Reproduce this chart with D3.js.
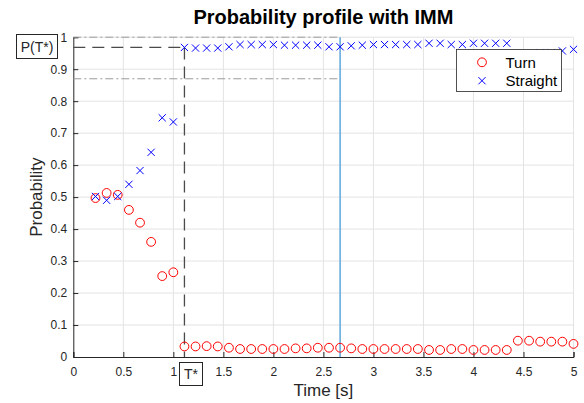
<!DOCTYPE html>
<html>
<head>
<meta charset="utf-8">
<script src="https://cdn.jsdelivr.net/npm/d3@7"></script>
<style>
  html, body { margin: 0; padding: 0; background: #fff; }
  svg { display: block; font-family: "Liberation Sans", Arial, Helvetica, sans-serif; }
</style>
</head>
<body>
<svg id="chart" width="584" height="403"></svg>
<script>
// Sample times [s]
const times = [0.222, 0.333, 0.444, 0.556, 0.667, 0.778, 0.889, 1.0,
  1.111, 1.222, 1.333, 1.444, 1.556, 1.667, 1.778, 1.889, 2.0, 2.111,
  2.222, 2.333, 2.444, 2.556, 2.667, 2.778, 2.889, 3.0, 3.111, 3.222,
  3.333, 3.444, 3.556, 3.667, 3.778, 3.889, 4.0, 4.111, 4.222, 4.333,
  4.444, 4.556, 4.667, 4.778, 4.889, 5.0];

// Mode probabilities from the IMM filter
const turnProb = [0.497, 0.513, 0.507, 0.460, 0.420, 0.360, 0.253, 0.265,
  0.033, 0.033, 0.034, 0.033, 0.029, 0.025, 0.025, 0.025, 0.025, 0.025,
  0.027, 0.027, 0.029, 0.029, 0.029, 0.027, 0.025,
  0.025, 0.025, 0.025, 0.025, 0.025, 0.022, 0.022, 0.025, 0.025, 0.022,
  0.022, 0.022, 0.022,
  0.051, 0.051, 0.048, 0.048, 0.048, 0.041];

const straightProb = [0.502, 0.490, 0.502, 0.540, 0.583, 0.640, 0.748, 0.735,
  0.968, 0.966, 0.966, 0.966, 0.970, 0.977, 0.977, 0.977, 0.977, 0.975,
  0.975, 0.975, 0.975, 0.970, 0.970, 0.973, 0.975,
  0.977, 0.977, 0.977, 0.977, 0.977, 0.981, 0.981, 0.977, 0.977, 0.981,
  0.981, 0.981, 0.981,
  0.949, 0.949, 0.952, 0.952, 0.957, 0.962];

const xTicks = [0, 0.5, 1, 1.5, 2, 2.5, 3, 3.5, 4, 4.5, 5];
const yTicks = [0, 0.1, 0.2, 0.3, 0.4, 0.5, 0.6, 0.7, 0.8, 0.9, 1];

// Reference markers
const tStar = 1.111;      // switch time T*
const pStar = 0.968;      // P(T*)
const tBand = 2.667;      // end of the band
const bandHigh = 1.0;
const bandLow = 0.87;

const svg = d3.select("#chart");
const plotLeft = 73.3, plotRight = 573.5, plotTop = 37.2, plotBottom = 357;

const x = d3.scaleLinear().domain([0, 5]).range([plotLeft, plotRight]);
const y = d3.scaleLinear().domain([0, 1]).range([plotBottom, plotTop]);

const axisColor = "#262626";

// Grid
const grid = svg.append("g").attr("stroke", "#e3e3e3").attr("stroke-width", 1);
grid.selectAll("line.gx").data(xTicks.slice(1)).join("line")
  .attr("x1", d => x(d)).attr("x2", d => x(d))
  .attr("y1", plotBottom).attr("y2", plotTop);
grid.selectAll("line.gy").data(yTicks.slice(1)).join("line")
  .attr("x1", plotLeft).attr("x2", plotRight)
  .attr("y1", d => y(d)).attr("y2", d => y(d));

// Axes (inward ticks)
const xAxis = d3.axisBottom(x).tickValues(xTicks).tickSize(-5).tickPadding(10)
  .tickFormat(d3.format("~g"));
const yAxis = d3.axisLeft(y).tickValues(yTicks).tickSize(-5).tickPadding(6)
  .tickFormat(d3.format("~g"));

const gx = svg.append("g").attr("transform", `translate(0,${plotBottom})`).call(xAxis);
const gy = svg.append("g").attr("transform", `translate(${plotLeft},0)`).call(yAxis);
[gx, gy].forEach(g => {
  g.select(".domain").attr("stroke", axisColor).attr("stroke-width", 1);
  g.selectAll(".tick line").attr("stroke", axisColor);
  g.selectAll(".tick text").attr("fill", axisColor)
    .style("font-size", "12px").style("font-family", "Liberation Sans, Arial, sans-serif");
});

// Band lines (dash-dot) and end marker
const band = svg.append("g");
[bandHigh, bandLow].forEach(v => {
  band.append("line")
    .attr("x1", x(0)).attr("x2", x(tBand))
    .attr("y1", y(v)).attr("y2", y(v))
    .attr("stroke", "#9a9a9a").attr("stroke-width", 1)
    .attr("stroke-dasharray", "8,3,2,3");
});
band.append("line")
  .attr("x1", x(tBand)).attr("x2", x(tBand))
  .attr("y1", y(bandHigh)).attr("y2", y(0))
  .attr("stroke", "#5ea6dc").attr("stroke-width", 1.5);

// T* / P(T*) guides
const guide = svg.append("g").attr("stroke", "#4a4a4a").attr("stroke-width", 1.3)
  .attr("stroke-dasharray", "12,7").attr("fill", "none");
guide.append("line")
  .attr("x1", x(0)).attr("x2", x(tStar))
  .attr("y1", y(pStar)).attr("y2", y(pStar));
guide.append("line")
  .attr("x1", x(tStar)).attr("x2", x(tStar))
  .attr("y1", y(pStar)).attr("y2", y(0));

// Markers
const turnColor = "#ff0000", straightColor = "#0000ff";
const pts = times.map((t, i) => ({ t, turn: turnProb[i], straight: straightProb[i] }));

svg.append("g").selectAll("circle").data(pts).join("circle")
  .attr("cx", d => x(d.t)).attr("cy", d => y(d.turn)).attr("r", 4.4)
  .attr("fill", "none").attr("stroke", turnColor).attr("stroke-width", 1);

const cs = 3.6;
const crossPath = (cx, cy) =>
  `M${cx - cs},${cy - cs}L${cx + cs},${cy + cs}M${cx - cs},${cy + cs}L${cx + cs},${cy - cs}`;
svg.append("g").selectAll("path").data(pts).join("path")
  .attr("d", d => crossPath(x(d.t), y(d.straight)))
  .attr("stroke", straightColor).attr("stroke-width", 1).attr("fill", "none");

// Boxed labels
function boxedLabel(text, bx, by, bw, bh) {
  const g = svg.append("g");
  g.append("rect").attr("x", bx).attr("y", by).attr("width", bw).attr("height", bh)
    .attr("fill", "#fff").attr("stroke", axisColor).attr("stroke-width", 1);
  g.append("text").attr("x", bx + bw / 2).attr("y", by + bh / 2 + 5)
    .attr("text-anchor", "middle").attr("fill", axisColor)
    .style("font-size", "14px").text(text);
}
boxedLabel("P(T*)", 16.5, 34.5, 41, 24);
boxedLabel("T*", 179.5, 362.5, 23, 23);

// Legend
const lg = svg.append("g");
lg.append("rect").attr("x", 456.5).attr("y", 49.5).attr("width", 105).attr("height", 42)
  .attr("fill", "#fff").attr("stroke", axisColor).attr("stroke-width", 0.8);
lg.append("circle").attr("cx", 482).attr("cy", 62.3).attr("r", 4.4)
  .attr("fill", "none").attr("stroke", turnColor);
lg.append("path").attr("d", crossPath(482, 80.7)).attr("stroke", straightColor).attr("fill", "none");
lg.append("text").attr("x", 505.5).attr("y", 67.5).attr("fill", "#000")
  .style("font-size", "15px").text("Turn");
lg.append("text").attr("x", 505.5).attr("y", 86).attr("fill", "#000")
  .style("font-size", "15px").text("Straight");

// Titles
svg.append("text").attr("x", (plotLeft + plotRight) / 2).attr("y", 24)
  .attr("text-anchor", "middle").attr("fill", "#000")
  .style("font-size", "20px").style("font-weight", "bold")
  .text("Probability profile with IMM");
svg.append("text").attr("x", (plotLeft + plotRight) / 2).attr("y", 396)
  .attr("text-anchor", "middle").attr("fill", axisColor)
  .style("font-size", "17px").text("Time [s]");
svg.append("text")
  .attr("transform", `translate(42,${(plotTop + plotBottom) / 2}) rotate(-90)`)
  .attr("text-anchor", "middle").attr("fill", axisColor)
  .style("font-size", "17px").text("Probability");
</script>
</body>
</html>
